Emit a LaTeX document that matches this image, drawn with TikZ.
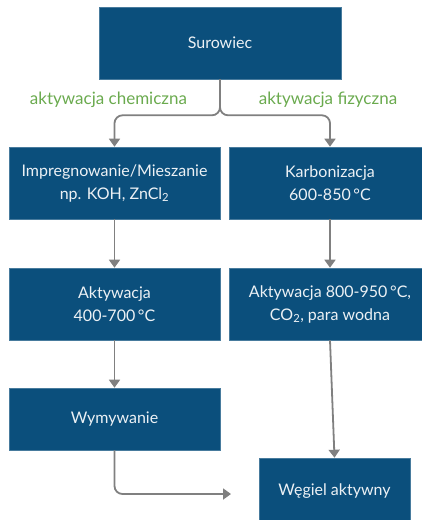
\documentclass[tikz,border=0pt]{standalone}
\usepackage{fontspec}
\setmainfont{Lato}
\usetikzlibrary{arrows.meta}
\definecolor{boxblue}{RGB}{11,79,124}
\definecolor{arrowgray}{RGB}{128,128,128}
\definecolor{labgreen}{RGB}{106,170,78}
\definecolor{boxtext}{RGB}{236,241,245}
\begin{document}
\begin{tikzpicture}[x=1pt,y=-1pt,
  box/.style={fill=boxblue, draw=boxblue!75!white, line width=0.6pt, text=boxtext,
    font=\fontsize{16}{23}\selectfont, align=center, inner sep=0pt},
  conn/.style={draw=arrowgray, line width=1.8pt, -{Triangle[width=11pt,length=8pt]}},
  lab/.style={text=labgreen, font=\fontsize{17}{18}\selectfont, inner sep=0pt}]
\useasboundingbox (0,0) rectangle (422,520);
\clip (0,0) rectangle (422,520);
\node[box, minimum width=242pt, minimum height=72pt] (s) at (220,43) {Surowiec};
\node[box, minimum width=211pt, minimum height=72pt] (imp) at (114.5,183) {Impregnowanie/Mieszanie\\np. KOH, ZnCl\textsubscript{2}};
\node[box, minimum width=202pt, minimum height=72pt] (karb) at (330,183) {Karbonizacja\\600-850\,°C};
\node[box, minimum width=211pt, minimum height=72pt] (akt1) at (114.5,304) {Aktywacja\\400-700\,°C};
\node[box, minimum width=202pt, minimum height=72pt] (akt2) at (330,304) {Aktywacja 800-950\,°C,\\CO\textsubscript{2}, para wodna};
\node[box, minimum width=211pt, minimum height=62pt] (wym) at (114.5,419) {Wymywanie};
\node[box, minimum width=151pt, minimum height=66pt] (weg) at (334.5,491) {Węgiel aktywny};
\node[lab] (lchem) at (108.5,100) {aktywacja chemiczna};
\node[lab] (lfiz) at (328,100) {aktywacja fizyczna};
\coordinate (wend) at (231,494);
\draw[conn, rounded corners=8pt] (s.south) -- ++(0,36) -| (imp.north);
\draw[conn, rounded corners=8pt] (s.south) -- ++(0,36) -| (karb.north);
\draw[conn] (imp.south) -- (akt1.north);
\draw[conn] (karb.south) -- (akt2.north);
\draw[conn] (akt1.south) -- (wym.north);
\draw[conn] (akt2.south) -- (weg.north);
\draw[conn, rounded corners=8pt] (wym.south) |- (wend);
\end{tikzpicture}
\end{document}
